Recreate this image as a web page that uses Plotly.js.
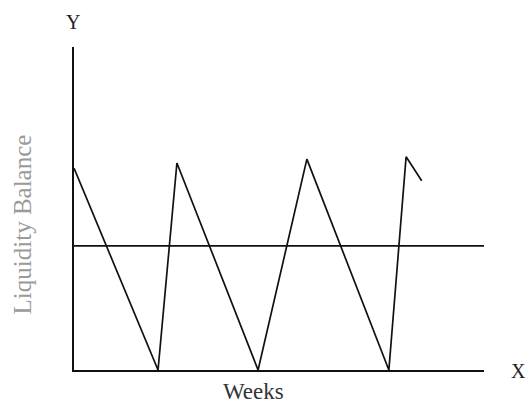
<!DOCTYPE html>
<html>
<head>
<meta charset="utf-8">
<script src="https://cdn.plot.ly/plotly-3.0.1.min.js"></script>
<style>html,body{margin:0;padding:0;background:#fff;}#chart{width:529px;height:403px;}</style>
</head>
<body>
<div id="chart"></div>
<script>
// Liquidity balance (sawtooth) over weeks
var weeks = [0, 2.05, 2.51, 4.49, 5.68, 7.68, 8.10, 8.48];
var balance = [6.25, 0, 6.41, 0, 6.53, 0, 6.60, 5.86];
// Average balance level
var avgWeeks = [0, 10];
var avgBalance = [3.84, 3.84];
// Labels
var yTitle = "Liquidity Balance";
var xTitle = "Weeks";
var yAxisLetter = "Y";
var xAxisLetter = "X";

var traces = [
  {x: weeks, y: balance, mode: 'lines', line: {color: '#111', width: 1.7}, hoverinfo: 'skip'},
  {x: avgWeeks, y: avgBalance, mode: 'lines', line: {color: '#111', width: 1.7}, hoverinfo: 'skip'}
];

var fontFam = '"Liberation Serif", "Times New Roman", serif';
var layout = {
  width: 529, height: 403,
  margin: {l: 74, r: 45, t: 47, b: 33},
  paper_bgcolor: '#fff', plot_bgcolor: '#fff',
  showlegend: false,
  xaxis: {range: [0, 10], showline: true, linecolor: '#111', linewidth: 2, showgrid: false, zeroline: false, showticklabels: false, ticks: ''},
  yaxis: {range: [0, 10], showline: true, linecolor: '#111', linewidth: 2, showgrid: false, zeroline: false, showticklabels: false, ticks: ''},
  annotations: [
    {text: yTitle, xref: 'paper', yref: 'paper', x: -0.125, y: 0.45, xanchor: 'center', yanchor: 'middle', textangle: -90, showarrow: false, font: {family: fontFam, size: 25, color: '#9a9a9a'}},
    {text: xTitle, xref: 'paper', yref: 'paper', x: 0.437, y: -0.068, xanchor: 'center', yanchor: 'middle', showarrow: false, font: {family: fontFam, size: 23, color: '#333'}},
    {text: yAxisLetter, xref: 'paper', yref: 'paper', x: -0.002, y: 1.077, xanchor: 'center', yanchor: 'middle', showarrow: false, font: {family: fontFam, size: 20, color: '#222'}},
    {text: xAxisLetter, xref: 'paper', yref: 'paper', x: 1.083, y: -0.003, xanchor: 'center', yanchor: 'middle', showarrow: false, font: {family: fontFam, size: 20, color: '#222'}}
  ]
};
Plotly.newPlot('chart', traces, layout, {staticPlot: true, displayModeBar: false});
</script>
</body>
</html>
